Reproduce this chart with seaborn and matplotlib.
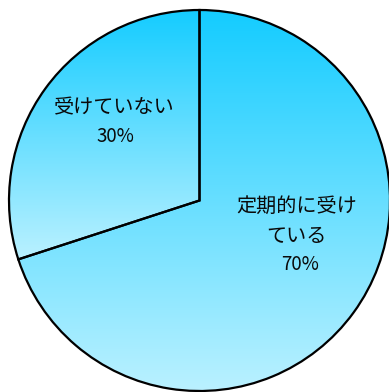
import numpy as np
import matplotlib
matplotlib.use("Agg")
import matplotlib.pyplot as plt
import seaborn as sns

# Survey answers
categories = ["定期的に受けている", "受けていない"]
category_labels = ["定期的に受け\nている", "受けていない"]
shares = [70, 30]

sns.set_theme(style="white")
plt.rcParams["font.family"] = ["Noto Sans CJK JP", "DejaVu Sans"]

fig = plt.figure(figsize=(3.89, 3.92), dpi=100)
ax = fig.add_axes([9 / 389, 1 / 392, 381 / 389, 381 / 392])

wedges, _ = ax.pie(
    shares,
    startangle=90,
    counterclock=False,
    radius=1.0,
    wedgeprops=dict(facecolor="none", edgecolor="black", linewidth=1.6),
)

# vertical gradient inside each wedge: deep sky blue at top, pale at bottom
cmap = sns.blend_palette(["#BAF1FF", "#14CCFF"], as_cmap=True)
grad = np.linspace(0, 1, 256).reshape(-1, 1)
for w in wedges:
    ext = w.get_path().get_extents()
    im = ax.imshow(
        grad,
        cmap=cmap,
        origin="lower",
        aspect="auto",
        extent=(ext.x0, ext.x1, ext.y0, ext.y1),
        interpolation="bilinear",
        zorder=0,
    )
    im.set_clip_path(w)

# label anchors (name, then share beneath it)
name_pos = [(0.51, -0.11), (-0.445, 0.487)]
pct_pos = [(0.53, -0.338), (-0.442, 0.335)]
for lab, v, (nx, ny), (px, py) in zip(category_labels, shares, name_pos, pct_pos):
    ax.text(nx, ny, lab, ha="center", va="center", fontsize=14.5,
            multialignment="center", linespacing=1.6, color="#0a0a0a")
    ax.text(px, py, f"{v}%", ha="center", va="center", fontsize=13.5,
            color="#0a0a0a")

ax.set_xlim(-1, 1)
ax.set_ylim(-1, 1)
ax.set_aspect("equal")
ax.axis("off")

fig.savefig("out.png", dpi=100)
